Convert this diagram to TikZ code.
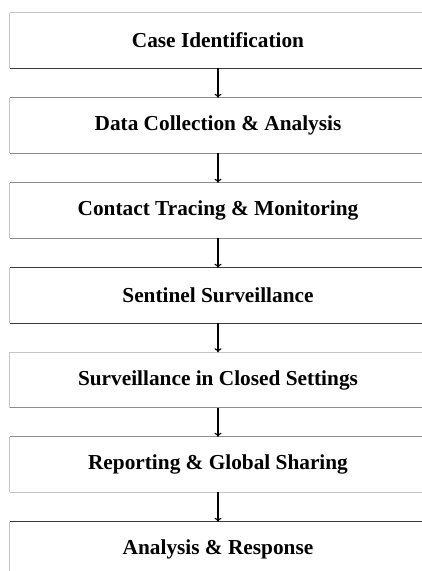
\documentclass[tikz,border=0pt]{standalone}
\usepackage{fontspec}
\setmainfont{Liberation Serif}
\usetikzlibrary{arrows.meta}
\definecolor{lightedge}{HTML}{C4C4C4}
\definecolor{midedge}{HTML}{8C8C8C}
\definecolor{darkedge}{HTML}{3A3A3A}
\tikzset{
  stagebox/.style={draw=none, minimum width=416pt, minimum height=55pt, inner sep=0pt,
    font=\fontsize{21.3}{25}\selectfont\bfseries, text=black},
  arr/.style={line width=1.1pt, black, -{To[length=4pt,width=7pt]}},
  edge/.style={line width=1.3pt}
}
\begin{document}
\begin{tikzpicture}[x=1pt,y=-1pt]
\useasboundingbox (0,0) rectangle (422,571);
\fill[white] (0,0) rectangle (422,571);
\clip (0,0) rectangle (422,571);
\node[stagebox] (b1) at (218,40.5) {Case Identification};
\node[stagebox] (b2) at (218,125.5) {Data Collection \& Analysis};
\node[stagebox] (b3) at (218,210.5) {Contact Tracing \& Monitoring};
\node[stagebox] (b4) at (218,295.5) {Sentinel Surveillance};
\node[stagebox] (b5) at (218,380) {Surveillance in Closed Settings};
\node[stagebox] (b6) at (218,464.5) {Reporting \& Global Sharing};
\node[stagebox] (b7) at (218,549.5) {Analysis \& Response};
\foreach \n/\tc/\bc in {b1/lightedge/darkedge, b2/midedge/midedge, b3/midedge/midedge,
  b4/darkedge/darkedge, b5/lightedge/midedge, b6/midedge/lightedge, b7/darkedge/lightedge}{
  \draw[edge, draw=lightedge] (\n.north west) -- (\n.south west);
  \draw[edge, draw=\tc] (\n.north west) -- (\n.north east);
  \draw[edge, draw=\bc] (\n.south west) -- (\n.south east);
}
\draw[arr] (b1) -- (b2);
\draw[arr] (b2) -- (b3);
\draw[arr] (b3) -- (b4);
\draw[arr] (b4) -- (b5);
\draw[arr] (b5) -- (b6);
\draw[arr] (b6) -- (b7);
\end{tikzpicture}
\end{document}
